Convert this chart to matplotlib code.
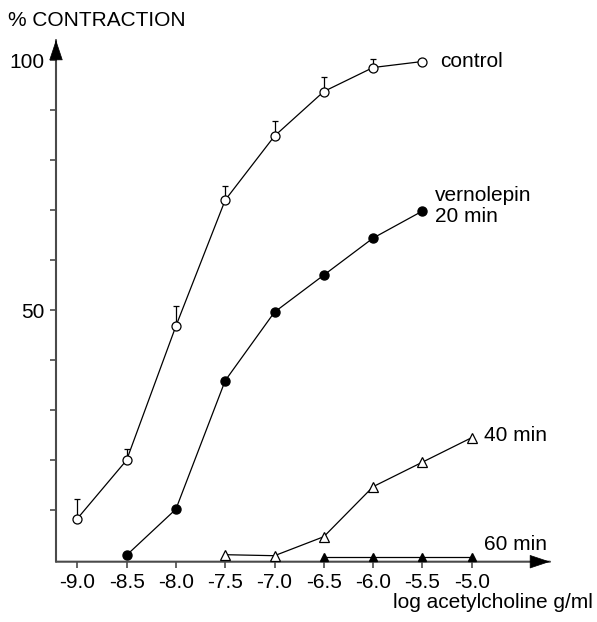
import matplotlib
matplotlib.use("Agg")
import matplotlib.pyplot as plt
import numpy as np

plt.rcParams['font.family'] = ['Liberation Sans', 'DejaVu Sans']

# log acetylcholine g/ml
x_control = [-9.0, -8.5, -8.0, -7.5, -7.0, -6.5, -6.0, -5.5]
y_control = [8.3, 20.0, 46.8, 72.0, 84.8, 93.7, 98.5, 99.7]
err_control = [4.0, 2.2, 4.0, 2.8, 3.0, 3.0, 1.7, 0.0]

x_20 = [-8.5, -8.0, -7.5, -7.0, -6.5, -6.0, -5.5]
y_20 = [1.0, 10.2, 35.9, 49.6, 57.0, 64.4, 69.8]

x_40 = [-7.5, -7.0, -6.5, -6.0, -5.5, -5.0]
y_40 = [1.1, 0.9, 4.7, 14.7, 19.6, 24.5]

x_60 = [-6.5, -6.0, -5.5, -5.0]
y_60 = [0.6, 0.6, 0.6, 0.6]

xticks = [-9.0, -8.5, -8.0, -7.5, -7.0, -6.5, -6.0, -5.5, -5.0]
yticks = [10, 20, 30, 40, 50, 60, 70, 80, 90, 100]
ytick_labels = ['', '', '', '', '50', '', '', '', '', '100']

W, H = 597, 622
fig = plt.figure(figsize=(W / 100, H / 100), dpi=100)
ax = fig.add_axes([56 / W, 1 - 561.7 / H, (550 - 56) / W, (561.7 - 40) / H])
ax.set_xlim(-9.216, -4.206)
ax.set_ylim(-0.3, 104.0)

for s in ax.spines.values():
    s.set_visible(False)

axis_col = '#4a4a4a'
for tip in [(1, 0), (0, 1)]:
    ax.annotate('', xy=tip, xytext=(0, 0), xycoords='axes fraction',
                arrowprops=dict(arrowstyle='-', color=axis_col, lw=1.5,
                                shrinkA=0, shrinkB=0))
    ax.annotate('', xy=tip, xytext=(tip[0] * 0.96, tip[1] * 0.96), xycoords='axes fraction',
                arrowprops=dict(arrowstyle='-|>,head_length=0.9,head_width=0.3',
                                mutation_scale=15, color='black', lw=0.5,
                                shrinkA=0, shrinkB=0))

lw = 0.9
# control with upward error bars
ax.errorbar(x_control, y_control, yerr=[np.zeros(len(err_control)), err_control],
            fmt='none', ecolor='black', elinewidth=0.9, capsize=2.5, capthick=0.9, zorder=2)
ax.plot(x_control, y_control, '-o', color='black', lw=lw, ms=6.5,
        mfc='white', mec='black', mew=0.9, zorder=3)
ax.plot(x_20, y_20, '-o', color='black', lw=lw, ms=6.5, mfc='black', zorder=3)
ax.plot(x_40, y_40, '-^', color='black', lw=lw, ms=7, mfc='white', mec='black', mew=0.9, zorder=3)
ax.plot(x_60, y_60, '-^', color='black', lw=lw, ms=5.5, mfc='black', zorder=3, clip_on=False)

ax.set_xticks(xticks)
ax.set_xticklabels([f'{v:.1f}' for v in xticks])
ax.set_yticks(yticks)
ax.set_yticklabels(ytick_labels)
ax.tick_params(axis='both', direction='out', length=4, width=1.2, color=axis_col,
               labelsize=15, pad=4)

fs = 15
ax.text(-5.32, 99.8, 'control', fontsize=fs, va='center', ha='left')
ax.text(-5.37, 70.8, 'vernolepin\n20 min', fontsize=fs, va='center', ha='left',
        linespacing=1.15)
ax.text(-4.88, 25.0, '40 min', fontsize=fs, va='center', ha='left')
ax.text(-4.88, 3.2, '60 min', fontsize=fs, va='center', ha='left')

fig.text(8 / W, 1 - 20 / H, '% CONTRACTION', fontsize=fs, va='center', ha='left')
fig.text(593 / W, 1 - 603 / H, 'log acetylcholine g/ml', fontsize=fs, va='center', ha='right')

fig.savefig('out.png', dpi=100, facecolor='white')
